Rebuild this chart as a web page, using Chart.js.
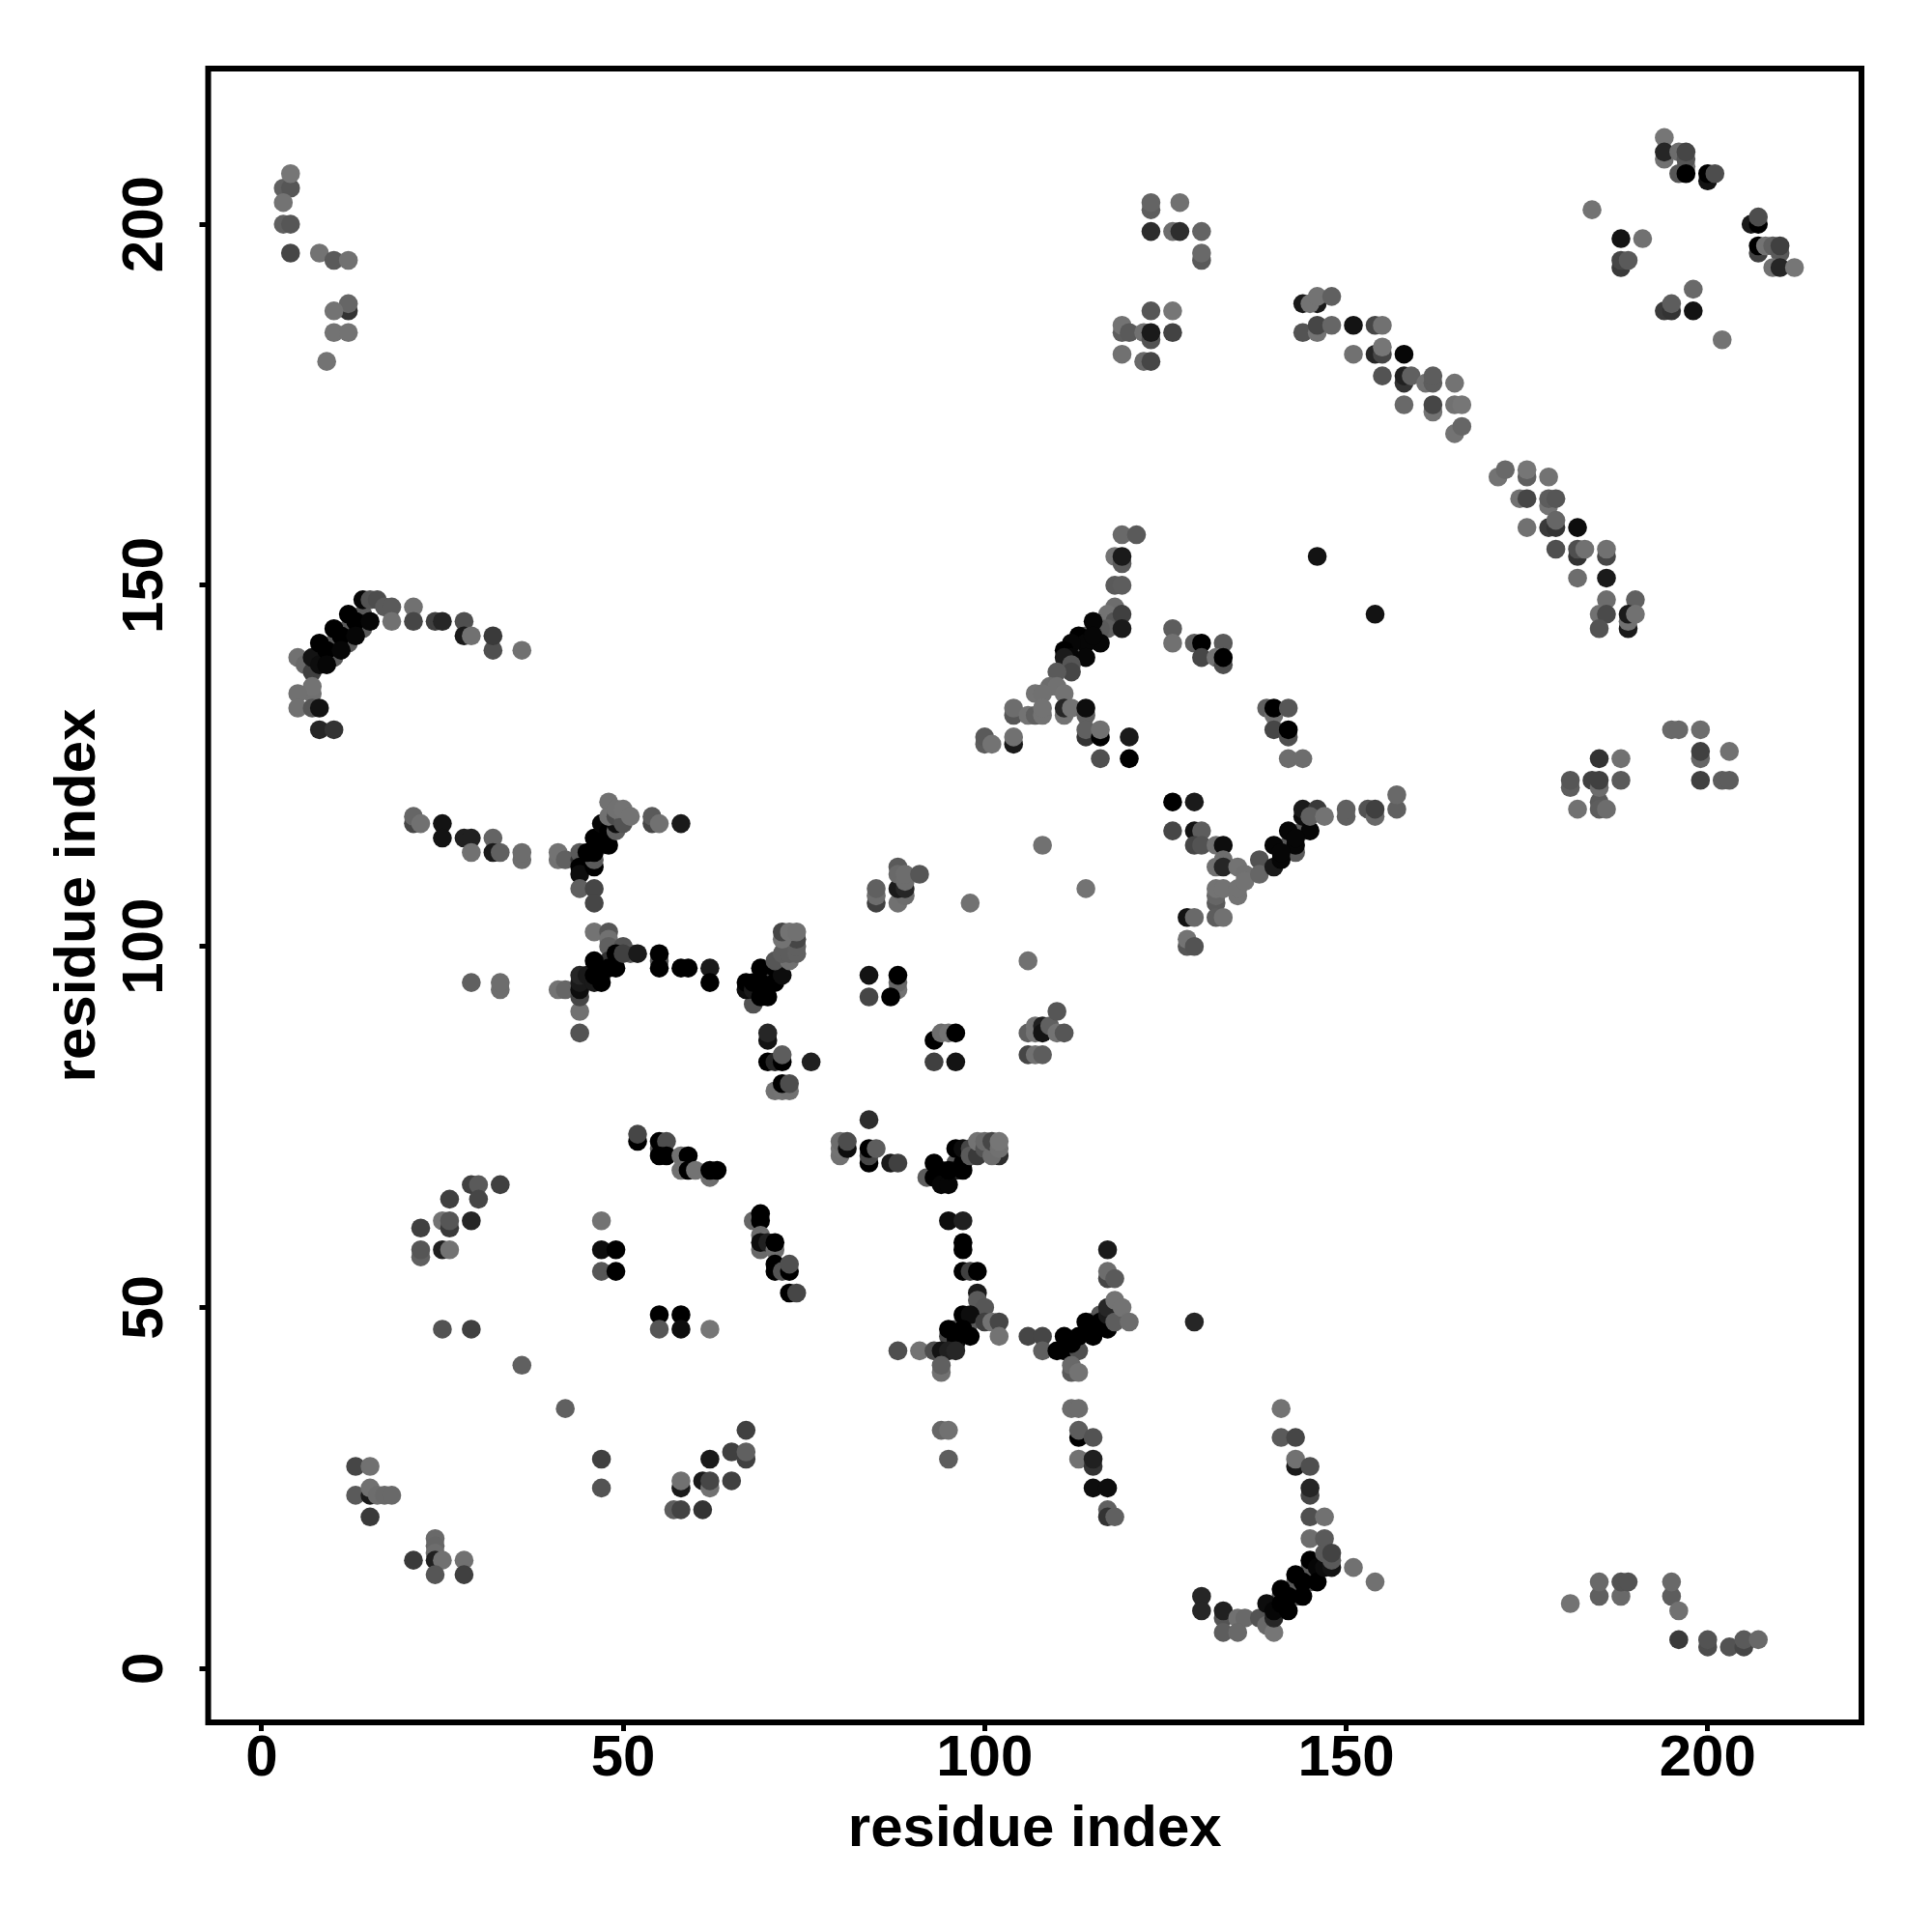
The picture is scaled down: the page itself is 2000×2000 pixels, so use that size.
<!DOCTYPE html>
<html>
<head>
<meta charset="utf-8">
<title>residue contact map</title>
<script src="https://cdn.jsdelivr.net/npm/chart.js@4/dist/chart.umd.min.js"></script>
<style>
  html, body { margin: 0; padding: 0; background: #fff; }
  canvas { display: block; }
</style>
</head>
<body>
<canvas id="contactChart" width="2000" height="2000"></canvas>
<script>
// each contact is [residue i, residue j, score], later ones are painted on top
const clusterTopLeft = [[3,205,.25],[4,205,.33],[4,207,.08],[3,203,.1],[3,200,.25],[4,200,.33],[4,196,.45],[8,196,.1],[10,195,.3],[12,195,.12],[12,188,.6],[12,189,.2],[10,188,.1],[10,185,.1],[12,185,.1],[9,181,.1]];
const clusterTopMiddle = [[123,202,.27],[123,203,.22],[127,203,.12],[123,199,.65],[126,199,.15],[127,199,.65],[130,199,.22],[130,195,.3],[130,196,.18],
  [123,188,.33],[126,188,.08],[119,185,.27],[119,186,.1],[120,185,.3],[122,185,.12],[123,184,.35],[123,185,.8],[126,185,.48],[119,182,.12],[122,181,.18],[123,181,.45]];
const clusterStrand = [[144,189,.8],[146,189,.8],[145,189,.1],[146,190,.1],[148,190,.25],[144,185,.35],[146,185,.1],[146,186,.45],[148,186,.2],[151,186,.85],[154,186,.45],[155,186,.12],
  [151,182,.12],[154,182,.7],[155,182,.45],[155,183,.08],[158,182,.95],[155,179,.35],[158,178,.6],[158,179,.75],[159,179,.25],[161,178,.12],[162,178,.27],[162,179,.27],[158,175,.18],[162,174,.1],[162,175,.45],
  [165,178,.1],[165,175,.12],[166,175,.08],[165,171,.1],[166,172,.2]];
const clusterTopRight = [[194,212,.08],[194,209,.12],[194,210,.7],[196,210,.15],[197,208,.12],[197,209,.33],[197,210,.45],[196,207,.33],[197,207,1],[200,206,.85],[200,207,1],[201,207,.4],
  [184,202,.1],[188,198,.85],[191,198,.12],[188,194,.55],[188,195,.45],[189,195,.3],[198,191,.18],[194,188,.55],[195,188,.6],[195,189,.27],[198,188,.85],[202,184,.1],
  [206,200,.8],[207,200,1],[207,201,.4],[207,196,.5],[207,197,1],[208,197,.1],[209,197,.25],[210,196,.3],[210,197,.5],[209,194,.12],[210,194,.7],[212,194,.08]];
const clusterLongStrand = [[171,165,.1],[172,166,.18],[175,165,.25],[175,166,.08],[178,165,.1],[174,162,.12],[175,162,.45],[178,161,.1],[178,162,.27],[179,162,.33],
  [175,158,.12],[178,158,.55],[179,158,.6],[179,159,.2],[182,158,.9],[179,155,.38],[182,154,.6],[182,155,.38],[183,155,.12],[186,154,.45],[186,155,.12],
  [182,151,.15],[186,151,.8],[186,148,.15],[190,148,.25],[185,146,.12],[186,146,.42],[185,144,.35],[189,144,.8],[189,145,.12],[189,146,.8],[190,146,.12]];
const clusterHelixLeft = [[5,140,.12],[6,139,.18],[7,138,.5],[10,142,.3],[12,144,.3],[14,146,.3],[10,140,.3],[12,142,.3],[14,144,.3],[8,140,.3],
  [7,140,.85],[8,139,.9],[8,142,1],[10,144,1],[12,146,1],[14,148,.95],[9,141,1],[11,143,1],[13,145,1],[9,139,.95],[11,141,.95],[13,143,.95],[15,145,.95],
  [15,148,.35],[16,148,.4],[17,147,.3],[18,147,.3],[21,147,.12],[18,145,.12],[21,145,.45],[24,145,.5],[25,145,.7],[28,145,.38],[28,143,.8],[29,143,.12],[32,141,.38],[32,143,.55],[36,141,.12],
  [7,135,.12],[7,136,.1],[5,135,.12],[5,133,.12],[7,133,.33],[8,133,.85],[8,130,.7],[10,130,.6]];
const clusterLeftArm = [[21,117,.45],[21,118,.2],[22,117,.12],[25,117,.85],[25,115,.85],[28,115,.75],[29,115,.75],[29,113,.12],[32,115,.22],[32,113,.8],[33,113,.25],[36,112,.15],[36,113,.15],[41,112,.12],[41,113,.1],[42,112,.25]];
const clusterHelixUpper = [[44,112,.6],[44,113,.3],[44,111,1],[44,110,.9],[46,111,1],[44,108,.25],[46,108,.45],[46,106,.45],
  [48,120,.12],[46,112,.3],[47,115,.3],[47,114,.3],[48,116,.3],[45,113,1],[46,113,1],[46,115,1],[48,114,1],[47,117,.95],[48,116,1],[49,116,.27],[49,117,.9],[48,118,.12],[49,118,.4],[50,118,.1],[50,117,.35],[49,119,.12],[50,119,.1],[51,118,.1],
  [54,117,.45],[54,118,.3],[55,117,.12],[58,117,.8]];
const clusterHelixMiddle = [[29,95,.25],[33,94,.15],[33,95,.15],[41,94,.1],[42,94,.2],[44,91,.12],[44,88,.35],[44,93,.45],[44,94,.9],[44,95,.8],[44,96,.7],
  [46,102,.1],[48,102,.33],[48,101,.12],[48,100,.25],[50,100,.35],[51,99,.33],[47,96,.3],[48,98,.6],[45,96,.8],[46,95,.8],[46,98,1],[46,96,1],[47,95,1],[48,97,1],[49,97,1],[49,99,1],[50,99,.5],[52,99,.8],
  [55,98,.33],[55,97,1],[55,99,1],[58,97,1],[59,97,1],[62,97,.8],[62,95,1]];
const clusterHelixCentre = [[68,92,.35],[67,94,.9],[67,95,1],[68,94,.8],[68,95,1],[70,96,.3],[70,95,.4],[69,95,1],[69,97,1],[69,93,1],[70,93,1],[71,95,1],[71,97,1],[72,96,.9],
  [71,98,.33],[73,98,.12],[72,99,.27],[73,99,.27],[74,99,.25],[74,100,.25],[74,101,.45],[72,101,.1],[72,102,.45],[73,102,.1],[74,102,.12],
  [70,87,.85],[70,88,.7],[70,84,1],[71,84,.7],[72,84,1],[72,85,.27],[76,84,.75],[71,80,.12],[72,80,.1],[73,80,.12],[72,81,1],[73,81,.4]];
const clusterMiddle = [[85,106,.5],[85,107,.15],[85,108,.25],[88,106,.12],[89,107,.15],[88,108,.8],[89,108,.7],[88,111,.3],[88,110,.18],[89,109,.15],[89,110,.15],[91,110,.33],[98,106,.12],[108,114,.12],[114,108,.1],[106,98,.12],
  [84,96,.85],[88,94,.12],[88,95,.2],[88,96,1],[84,93,.45],[87,93,1],[93,87,1],[94,88,.15],[95,88,.1],[96,88,1],[93,84,.5],[96,84,.85],
  [106,88,.25],[107,89,.1],[107,88,.1],[108,89,.75],[108,88,.85],[109,89,.25],[110,91,.33],[110,88,.1],[111,88,.33],[106,85,.45],[107,85,.12],[108,85,.27]];
const clusterUpperFork = [[119,157,.18],[121,157,.3],[118,154,.1],[119,153,.3],[119,154,.8],[118,150,.3],[119,150,.27],[118,147,.15],[117,146,.1],[118,145,.33],[117,144,.25],[119,146,.5],[119,144,.8],
  [112,141,.3],[114,143,.3],[116,144,.3],[115,145,.95],[116,142,.95],[113,143,1],[114,142,.95],[115,143,.95],[112,142,.95],[111,141,1],[112,140,.95],[114,140,.95],[111,140,.8],[112,139,.33],[112,138,.45],[110,138,.3],
  [109,136,.15],[110,136,.12],[107,135,.1],[108,135,.12],[111,135,.1],[104,132,.33],[104,133,.15],[106,132,.1],[107,132,.25],[108,132,.1],[108,133,.1],[111,132,.1],[111,133,.7],[112,133,.1],[114,132,.25],[114,133,.9],
  [114,129,.6],[114,130,.25],[116,129,1],[116,130,.12],[120,129,.8],[120,126,1],[116,126,.38],[100,128,.27],[100,129,.3],[101,128,.1],[104,128,.8],[104,129,.12]];
const clusterRightArm = [[126,144,.27],[126,142,.12],[129,142,.27],[130,142,1],[133,142,.3],[130,140,.45],[132,140,.1],[133,139,.38],[133,140,1],[146,154,.85],[154,146,.85],
  [139,133,.25],[140,132,.12],[140,133,1],[142,133,.33],[140,130,.45],[142,129,.38],[142,130,1],[142,126,.15],[144,126,.15]];
const clusterLowerFork = [[126,120,1],[129,120,.8],[126,116,.45],[129,116,.85],[130,116,.27],[129,114,.45],[130,114,.35],[132,114,.12],[133,114,.9],[133,112,.15],[132,111,.12],[133,111,.7],
  [132,106,.3],[132,107,.2],[132,108,.1],[133,108,.1],[128,104,.85],[129,104,.18],[132,104,.27],[133,104,.12],[128,100,.33],[128,101,.1],[129,100,.35],
  [135,111,.1],[136,110,.12],[135,107,.1],[135,108,.1],[136,109,.1],[138,112,.35],[138,110,.2],
  [142,114,.3],[144,116,.3],[143,113,.3],[140,111,.8],[140,114,.95],[142,116,.95],[144,118,.9],[141,112,.95],[143,114,.95],[145,116,.95],[141,113,.95],[143,115,.95],[144,119,.8],[146,119,.55],[145,118,.25],[147,118,.1],[150,118,.25],[150,119,.25],[153,119,.35],[154,118,.18],[154,119,.5],[157,119,.25],[157,121,.18]];
const clusterRightBlock = [[181,122,.27],[181,123,.33],[182,119,.12],[184,123,.5],[185,120,.3],[185,119,.27],[186,119,.15],[185,122,.15],[185,123,.5],[185,126,.6],[188,126,.12],[188,123,.3],
  [195,130,.18],[196,130,.18],[199,130,.15],[199,126,.2],[199,127,.5],[203,127,.12],[199,123,.5],[202,123,.27],[203,123,.27]];
const clusterLowerLeft = [[29,67,.5],[30,67,.3],[33,67,.5],[26,65,.5],[30,65,.45],[25,62,.1],[26,61,.55],[26,62,.33],[29,62,.7],[22,61,.5],[22,57,.25],[22,58,.33],[25,58,.75],[26,58,.1],
  [47,62,.1],[47,58,.9],[49,58,1],[47,55,.33],[49,55,1],[55,49,1],[58,49,1],[55,47,.33],[58,47,.9],[62,47,.08],[25,47,.35],[29,47,.5],[36,42,.25],[42,36,.25],[52,73,1],[52,74,.45]];
const clusterCentreStrand = [[55,72,.33],[55,73,1],[56,73,.4],[55,71,1],[56,71,1],[58,71,.12],[59,71,1],[58,69,.12],[59,69,1],[60,69,.1],[62,68,.15],[62,69,1],[63,69,1],
  [68,62,.2],[69,63,1],[69,62,1],[69,60,.15],[69,58,.18],[69,59,.9],[70,59,.75],[71,58,.15],[71,59,1],[71,55,1],[71,56,1],[72,55,.35],[73,55,1],[73,56,.38],[73,52,1],[74,52,.45]];
const clusterStrandHelix = [[80,71,.12],[80,72,.1],[80,73,.15],[81,72,.9],[81,73,.4],[84,76,.65],[84,70,1],[84,71,.45],[84,72,1],[85,72,.27],[87,70,.8],[88,70,.5],
  [92,68,.27],[96,70,.3],[94,69,.7],[96,69,.75],[93,68,1],[93,70,1],[94,67,.95],[95,67,.95],[95,69,1],[97,69,1],[97,70,1],[96,72,1],[97,72,.9],[98,72,.45],
  [98,71,.3],[99,71,.55],[99,73,.1],[100,72,.35],[100,73,.18],[102,71,.65],[101,71,.15],[101,73,.45],[102,72,.12],[102,73,.08]];
const clusterCentreLower = [[95,62,.9],[97,62,.75],[97,58,1],[97,59,1],[97,55,1],[98,55,.5],[99,55,1],[99,52,.8],[99,51,.3],[100,50,.33],
  [98,48,.3],[96,47,.3],[95,46,.45],[96,45,.9],[95,47,1],[97,49,1],[98,49,.9],[97,47,1],[98,46,1],[96,46,1],[100,48,.5],[101,48,.1],[102,48,.45],[102,46,.1],
  [88,44,.38],[91,44,.1],[93,44,.4],[94,44,.85],[95,44,.75],[96,44,.7],[94,41,.12],[94,42,.25],[94,33,.2],[95,33,.12],[95,29,.27]];
const clusterLowerRightFork = [[106,46,.45],[108,46,.45],[108,44,.25],[112,44,.7],[110,44,1],[111,44,1],[113,44,.38],[112,45,1],[111,46,1],[113,46,1],[115,48,.27],[116,49,.33],[114,48,1],[115,46,1],[116,48,1],[117,47,1],
  [117,49,.8],[117,50,.7],[118,48,.27],[118,51,.1],[119,50,.1],[120,48,.15],[117,58,.8],[117,54,.45],[117,55,.15],[118,54,.3],[129,48,.7],
  [112,41,.3],[112,42,.18],[113,41,.1],[112,36,.15],[113,36,.15],[113,32,1],[113,33,.27],[115,32,.35],[113,29,.12],[115,28,.6],[115,29,.75],[115,25,.9],[117,25,.9],[117,22,.25],[117,21,.6],[118,21,.25]];
const clusterHelixBottom = [[141,36,.1],[141,32,.3],[143,32,.45],[143,28,.8],[143,29,.12],[145,28,.38],[145,24,.45],[145,25,.7],[145,21,.38],[147,21,.12],[145,18,.15],[147,18,.3],
  [151,14,.12],[154,12,.12],[130,10,.7],[130,8,.7],[133,7,.35],[133,8,.75],[133,5,.27],[135,7,.12],[136,7,.18],[135,5,.18],[138,7,.35],[139,6,.18],[140,5,.08],
  [143,12,.3],[145,14,.3],[141,10,.3],[143,10,.3],[145,12,.3],[140,7,.7],[139,9,.9],[141,11,1],[143,13,1],[145,15,1],[140,8,.95],[142,10,1],[144,12,1],[146,14,.95],[141,9,1],[142,8,1],[144,10,1],[146,12,1],
  [147,14,.9],[147,16,.3],[148,14,.85],[148,15,.3],[148,16,.48]];
const clusterBottomLeft = [[13,28,.45],[15,28,.12],[13,24,.3],[15,24,.8],[15,25,.12],[16,24,.15],[17,24,.18],[18,24,.18],[15,21,.55],
  [24,18,.18],[24,17,.2],[24,16,.15],[21,15,.55],[24,15,.75],[25,15,.12],[28,15,.12],[24,13,.33],[28,13,.5],
  [47,29,.5],[47,25,.35],[67,33,.5],[65,30,.5],[67,29,.5],[67,30,.25],[62,29,.8],[58,25,.8],[58,26,.12],[61,26,.8],[62,25,.12],[62,26,.45],[65,26,.5],[57,22,.27],[58,22,.48],[61,22,.6]];
const clusterBottomRight = [[181,9,.1],[185,10,.25],[185,12,.18],[188,10,.18],[188,12,.35],[189,12,.35],[195,10,.27],[195,12,.18],[196,8,.12],[196,4,.55],[200,3,.4],[200,4,.35],[203,3,.35],[205,3,.45],[205,4,.3],[207,4,.18]];

const tickValues = [0, 50, 100, 150, 200];
const axisLabel = 'residue index';

const contacts = [].concat(clusterTopLeft, clusterTopMiddle, clusterStrand, clusterTopRight, clusterLongStrand,
    clusterHelixLeft, clusterLeftArm, clusterHelixUpper, clusterHelixMiddle, clusterHelixCentre, clusterMiddle,
    clusterUpperFork, clusterRightArm, clusterLowerFork, clusterRightBlock, clusterLowerLeft, clusterCentreStrand,
    clusterStrandHelix, clusterCentreLower, clusterLowerRightFork, clusterHelixBottom, clusterBottomLeft, clusterBottomRight);

function scoreColor(s) {
    const g = Math.round(128 * (1 - s));
    return `rgb(${g},${g},${g})`;
}

const FONT = { family: '"Liberation Sans", Arial, sans-serif', size: 60, weight: 'bold' };

// box around the plot, all four sides
const frame = {
    id: 'frame',
    afterDatasetsDraw(chart) {
        const a = chart.chartArea, c = chart.ctx;
        c.save();
        c.strokeStyle = '#000';
        c.lineWidth = 6;
        c.strokeRect(a.left, a.top, a.right - a.left, a.bottom - a.top);
        c.restore();
    }
};

function axisOptions(extra) {
    return Object.assign({
        type: 'linear',
        afterBuildTicks(scale) { scale.ticks = tickValues.map(v => ({ value: v })); },
        border: { display: false },
        grid: { drawOnChartArea: false, drawTicks: true, tickLength: 9, tickWidth: 5, color: '#000' },
    }, extra);
}

new Chart(document.getElementById('contactChart').getContext('2d'), {
    type: 'scatter',
    data: {
        datasets: [{
            data: contacts.map(c => ({ x: c[0], y: c[1] })),
            backgroundColor: contacts.map(c => scoreColor(c[2])),
            pointRadius: 9.8,
            pointBorderWidth: 0,
            pointHoverRadius: 9.8,
        }]
    },
    options: {
        responsive: false,
        animation: false,
        layout: { padding: { left: 0, top: 71, right: 73, bottom: 0 } },
        plugins: { legend: { display: false }, tooltip: { enabled: false } },
        scales: {
            x: axisOptions({
                min: -7.39,
                max: 221.27,
                afterFit(scale) { scale.height = 217; },
                ticks: { color: '#000', font: FONT, padding: -6.5, maxRotation: 0, minRotation: 0, autoSkip: false },
                title: { display: true, text: axisLabel, color: '#000', font: FONT, padding: { top: 0, bottom: 70 } },
            }),
            y: axisOptions({
                min: -7.45,
                max: 221.55,
                afterFit(scale) { scale.width = 215.5; },
                ticks: { color: '#000', font: FONT, padding: 4.5, minRotation: 90, maxRotation: 90, crossAlign: 'center', autoSkip: false },
                title: { display: true, text: axisLabel, color: '#000', font: FONT, padding: { top: 45, bottom: 0 } },
            }),
        }
    },
    plugins: [frame]
});
</script>
</body>
</html>
